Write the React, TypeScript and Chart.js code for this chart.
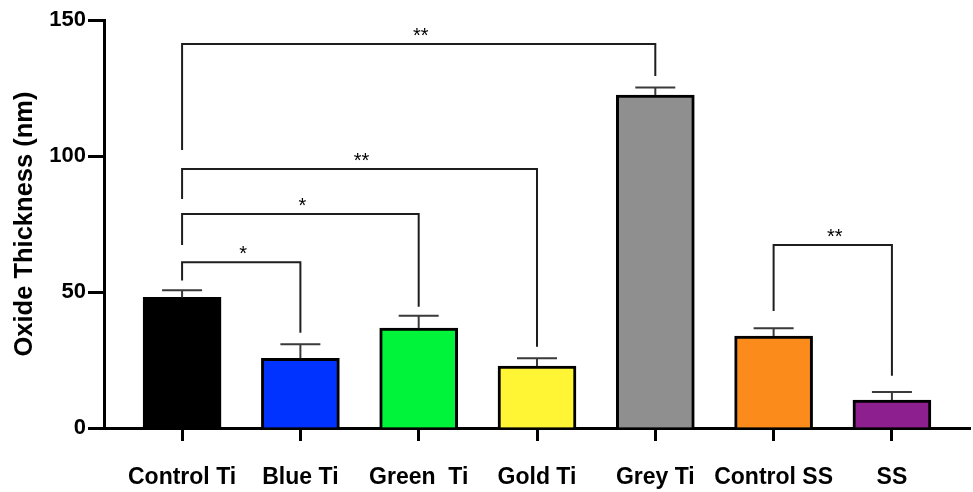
import React, { useEffect, useRef } from "react";
import { Chart, registerables } from "chart.js";

Chart.register(...registerables);

const categories = ["Control Ti", "Blue Ti", "Green  Ti", "Gold Ti", "Grey Ti", "Control SS", "SS"];
const means = [48.0, 25.6, 36.7, 22.8, 122.4, 33.8, 10.3];
const sem = [2.6, 5.2, 4.6, 2.8, 2.8, 2.9, 2.9];
const barColors = ["#000000", "#0033ff", "#00f53a", "#fff535", "#8f8f8f", "#fb8c1c", "#8e1f8e"];
const yTicks = [0, 50, 100, 150];

// significance brackets: from/to category index, bracket level, leg bottoms (data units)
const brackets = [
  { from: 0, to: 4, level: 141.2, leftEnd: 102.2, rightEnd: 129.4, label: "**" },
  { from: 0, to: 3, level: 95.2, leftEnd: 84.2, rightEnd: 29.9, label: "**" },
  { from: 0, to: 2, level: 78.7, leftEnd: 67.3, rightEnd: 44.6, label: "*" },
  { from: 0, to: 1, level: 60.9, leftEnd: 54.2, rightEnd: 35.0, label: "*" },
  { from: 5, to: 6, level: 67.3, leftEnd: 43.0, rightEnd: 19.2, label: "**" },
];

const FONT = "'Liberation Sans', Arial, Helvetica, sans-serif";

const annotationPlugin = {
  id: "errAndSig",
  afterDatasetsDraw(chart: any) {
    const ctx = chart.ctx;
    const xs = chart.scales.x;
    const ys = chart.scales.y;
    ctx.save();
    // error bars
    ctx.strokeStyle = "#3a3a3a";
    ctx.lineWidth = 2;
    means.forEach((m, i) => {
      const x = xs.getPixelForValue(i);
      const y0 = ys.getPixelForValue(m);
      const y1 = ys.getPixelForValue(m + sem[i]);
      ctx.beginPath();
      ctx.moveTo(x, y0);
      ctx.lineTo(x, y1);
      ctx.moveTo(x - 20, y1);
      ctx.lineTo(x + 20, y1);
      ctx.stroke();
    });
    // brackets
    ctx.strokeStyle = "#1e1e1e";
    ctx.lineWidth = 2;
    ctx.fillStyle = "#000";
    ctx.font = `20px ${FONT}`;
    ctx.textAlign = "center";
    ctx.textBaseline = "alphabetic";
    brackets.forEach((b) => {
      const xa = xs.getPixelForValue(b.from);
      const xb = xs.getPixelForValue(b.to);
      const yl = ys.getPixelForValue(b.level);
      ctx.beginPath();
      ctx.moveTo(xa, ys.getPixelForValue(b.leftEnd));
      ctx.lineTo(xa, yl);
      ctx.lineTo(xb, yl);
      ctx.lineTo(xb, ys.getPixelForValue(b.rightEnd));
      ctx.stroke();
      ctx.fillText(b.label, (xa + xb) / 2 + 2, yl - 2);
    });
    ctx.restore();
  },
};

export default function App() {
  const ref = useRef<HTMLCanvasElement | null>(null);
  useEffect(() => {
    if (!ref.current) return;
    const chart = new Chart(ref.current, {
      type: "bar",
      data: {
        datasets: [
          {
            data: means.map((v, i) => ({ x: i, y: v })),
            backgroundColor: barColors,
            borderColor: "#000",
            borderWidth: 3,
            barThickness: 78,
          },
        ],
      },
      options: {
        animation: false,
        responsive: true,
        maintainAspectRatio: false,
        layout: { padding: { top: 20, right: 3, left: 0, bottom: 0 } },
        plugins: { legend: { display: false }, tooltip: { enabled: false } },
        scales: {
          x: {
            type: "linear",
            offset: false,
            min: -0.66,
            max: 6.66,
            afterBuildTicks: (scale: any) => {
              scale.ticks = categories.map((_, i) => ({ value: i }));
            },
            afterFit: (scale: any) => {
              scale.height = 64;
            },
            grid: { offset: false, drawOnChartArea: false, drawTicks: true, tickLength: 13, tickWidth: 3, color: "#000" },
            border: { display: true, width: 3, color: "#000" },
            ticks: {
              autoSkip: false,
              maxRotation: 0,
              padding: 23,
              color: "#000",
              font: { family: FONT, size: 23, weight: "bold" },
              callback: (v: any) => categories[v as number] ?? "",
            },
          },
          y: {
            min: 0,
            max: 150,
            afterBuildTicks: (scale: any) => {
              scale.ticks = yTicks.map((v) => ({ value: v }));
            },
            afterFit: (scale: any) => {
              scale.width = 104;
            },
            grid: { drawOnChartArea: false, drawTicks: true, tickLength: 16, tickWidth: 3, color: "#000" },
            border: { display: true, width: 3, color: "#000" },
            ticks: {
              padding: 2,
              color: "#000",
              font: { family: FONT, size: 22, weight: "bold" },
            },
            title: {
              display: true,
              text: "Oxide Thickness (nm)",
              color: "#000",
              font: { family: FONT, size: 25.5, weight: "bold" },
              padding: { top: 10, bottom: 0 },
            },
          },
        },
      },
      plugins: [annotationPlugin],
    });
    return () => chart.destroy();
  }, []);
  return (
    <div style={{ position: "fixed", left: 0, top: 0, width: 973, height: 492, background: "#fff" }}>
      <canvas ref={ref} />
    </div>
  );
}
